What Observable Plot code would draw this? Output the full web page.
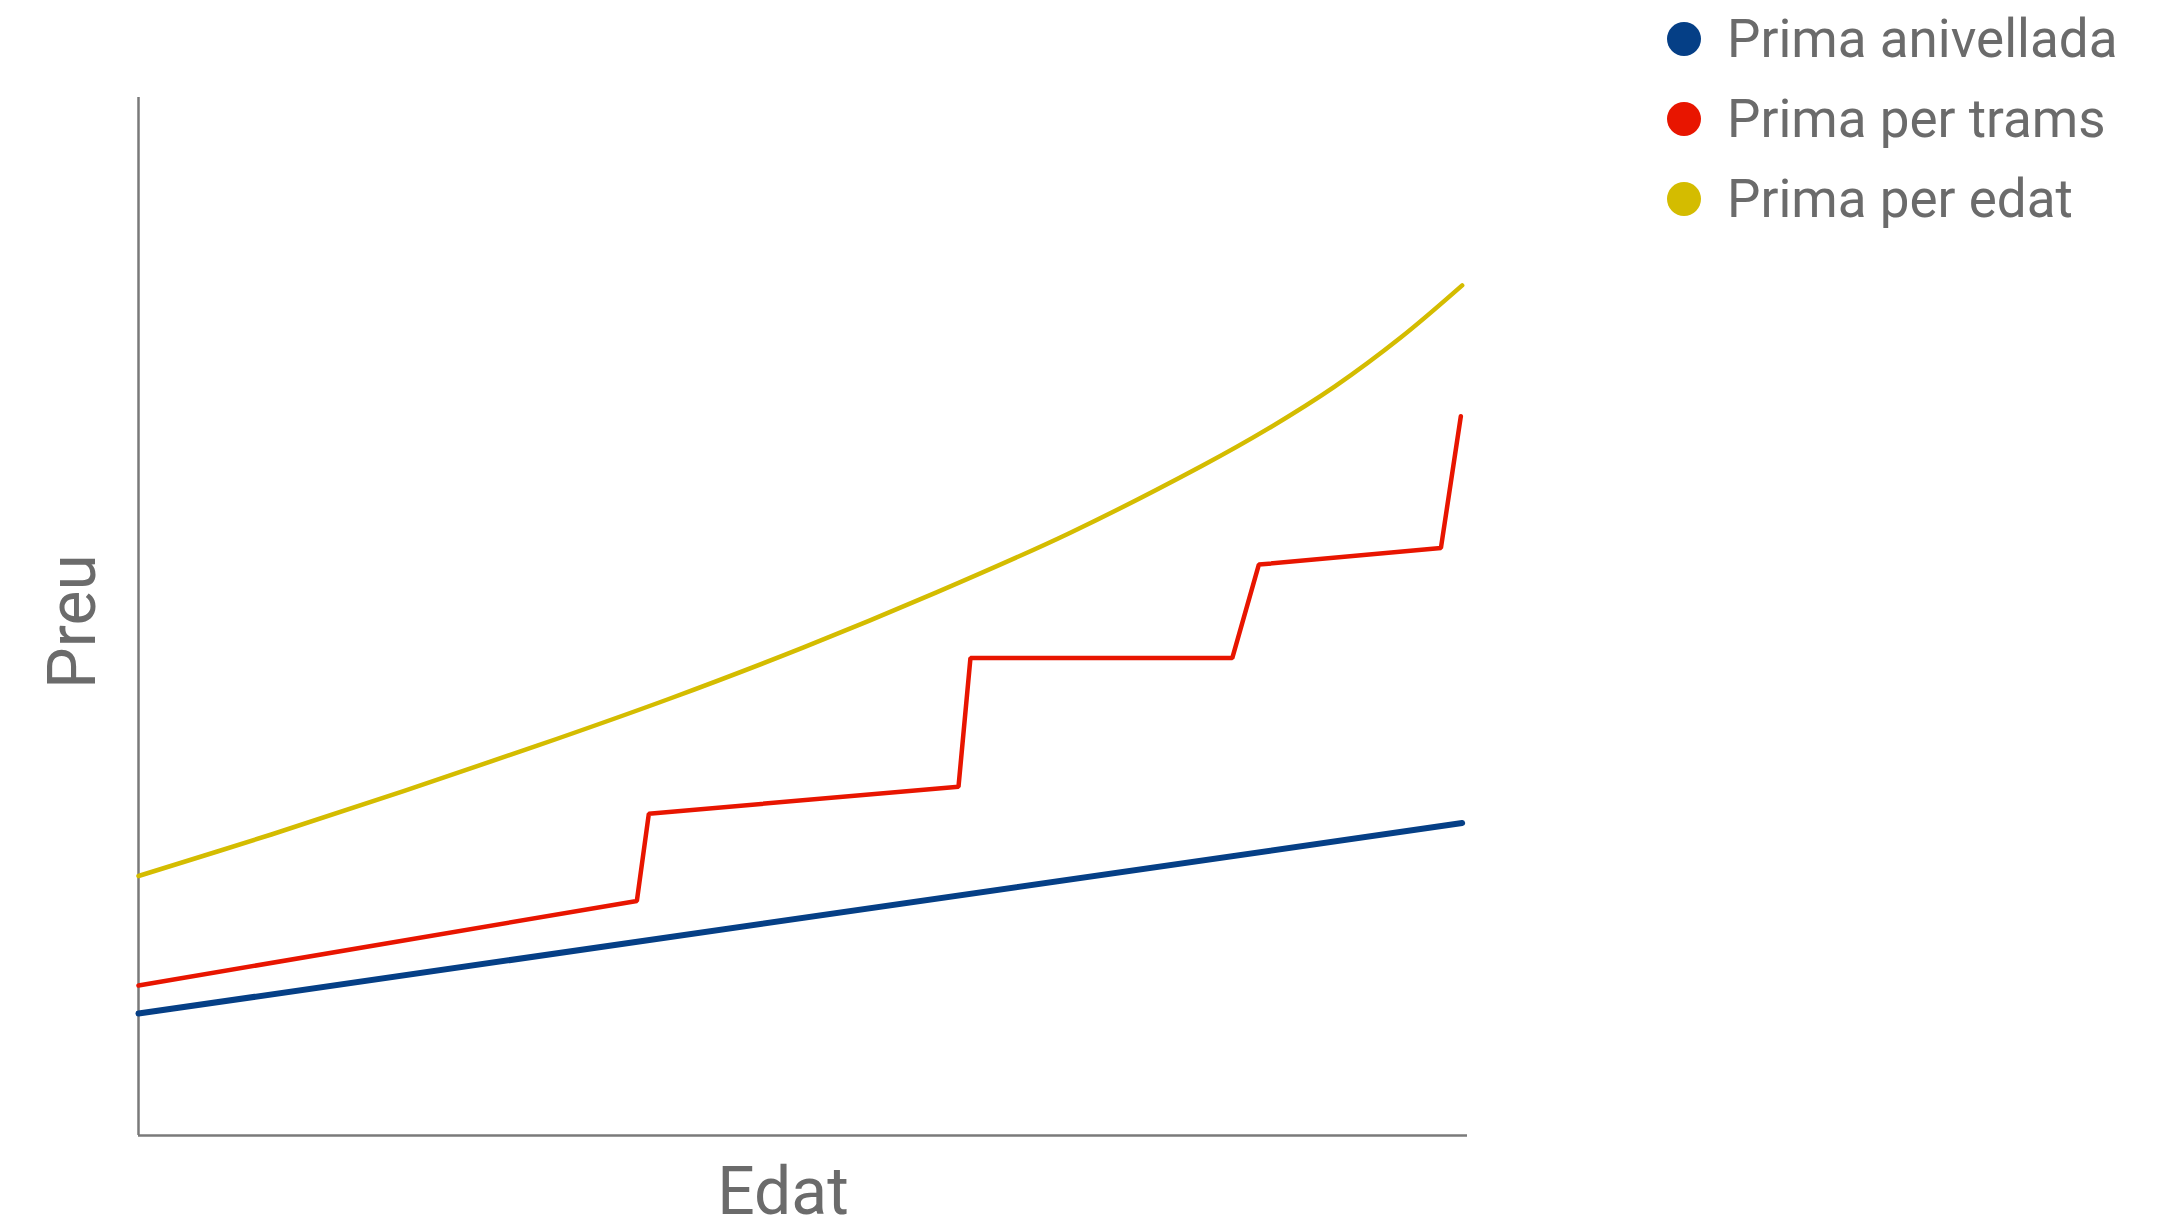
<!DOCTYPE html>
<html>
<head>
<meta charset="utf-8">
<script src="https://cdn.jsdelivr.net/npm/d3@7"></script>
<script src="https://cdn.jsdelivr.net/npm/@observablehq/plot@0.6"></script>
<style>
  html, body { margin: 0; padding: 0; background: #fff; }
  #wrap { position: relative; width: 2176px; height: 1221px; font-family: Roboto, sans-serif; }
  #legend { position: absolute; left: 0; top: 0; }
</style>
</head>
<body>
<div id="wrap"></div>
<script>
// Series names and colours
const seriesNames = ["Prima anivellada", "Prima per trams", "Prima per edat"];
const seriesColors = ["#053f86", "#e81500", "#d4bc00"];

// Prima anivellada (level premium) — straight line
const levelAge = [0, 99.6];
const levelPrice = [11.75, 30.1];

// Prima per trams (step premium)
const stepAge = [0, 37.5, 38.4, 61.7, 62.6, 82.3, 84.3, 98.0, 99.5];
const stepPrice = [14.45, 22.6, 31.0, 33.6, 46.0, 46.0, 55.0, 56.6, 69.3];

// Prima per edat (age-based premium) — curve
const ageAge = [0, 10, 20, 30, 40, 50, 60, 70, 80, 85, 90, 95, 99.6];
const agePrice = [25.0, 29.0, 33.2, 37.55, 42.1, 47.0, 52.3, 58.0, 64.5, 68.1, 72.15, 76.9, 81.9];

const toRows = (xs, ys, s) => xs.map((x, i) => ({edat: x, preu: ys[i], serie: s}));
const level = toRows(levelAge, levelPrice, seriesNames[0]);
const step = toRows(stepAge, stepPrice, seriesNames[1]);
const byAge = toRows(ageAge, agePrice, seriesNames[2]);

const textColor = "#6b6b6b";
const axisColor = "#7a7a7a";

const chart = Plot.plot({
  width: 2176,
  height: 1221,
  marginLeft: 138,
  marginRight: 709,
  marginTop: 97,
  marginBottom: 86,
  style: { fontFamily: "Roboto, sans-serif", background: "#fff" },
  x: { domain: [0, 100], axis: null },
  y: { domain: [0, 100], axis: null },
  marks: [
    Plot.ruleX([0], { stroke: axisColor, strokeWidth: 2.5 }),
    Plot.ruleY([0], { stroke: axisColor, strokeWidth: 2.5 }),
    Plot.line(byAge, { x: "edat", y: "preu", stroke: seriesColors[2], strokeWidth: 4.5, curve: "catmull-rom" }),
    Plot.line(step, { x: "edat", y: "preu", stroke: seriesColors[1], strokeWidth: 4.5, strokeLinejoin: "miter" }),
    Plot.line(level, { x: "edat", y: "preu", stroke: seriesColors[0], strokeWidth: 6 }),
    Plot.text(["Preu"], { frameAnchor: "left", dx: -65, dy: 5, rotate: -90, fontSize: 66, fill: textColor, textAnchor: "middle", lineAnchor: "middle" }),
    Plot.text(["Edat"], { frameAnchor: "bottom", dx: -20, dy: 78, fontSize: 66, fill: textColor, textAnchor: "middle", lineAnchor: "bottom" })
  ]
});

const wrap = document.getElementById("wrap");
wrap.appendChild(chart);

// Legend (overlay in the top-right)
const leg = d3.select(wrap).append("svg")
  .attr("id", "legend")
  .attr("width", 2176).attr("height", 260)
  .style("pointer-events", "none");
const rows = leg.selectAll("g").data(seriesNames).join("g")
  .attr("transform", (d, i) => `translate(1684, ${39 + i * 80})`);
rows.append("circle").attr("r", 17).attr("fill", (d, i) => seriesColors[i]);
rows.append("text")
  .attr("x", 43).attr("y", 18)
  .attr("font-family", "Roboto, sans-serif")
  .attr("font-size", 53)
  .attr("fill", textColor)
  .text(d => d);
</script>
</body>
</html>
